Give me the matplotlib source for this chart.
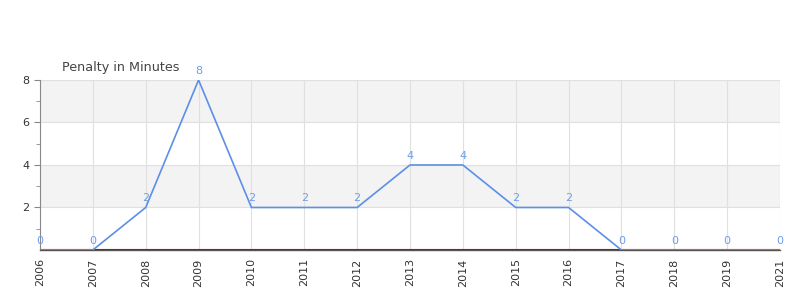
import numpy as np
import matplotlib
matplotlib.use("Agg")
import matplotlib.pyplot as plt

years = [2006, 2007, 2008, 2009, 2010, 2011, 2012, 2013, 2014, 2015, 2016, 2017, 2018, 2019, 2021]
penalty = [0, 0, 2, 8, 2, 2, 2, 4, 4, 2, 2, 0, 0, 0, 0]
y_ticks = [2, 4, 6, 8]

fig = plt.figure(figsize=(8, 3), dpi=100)
ax = fig.add_axes([0.05, 0.1667, 0.925, 0.5667])

x = np.arange(len(years))

# alternating background bands
ax.axhspan(2, 4, color='#f3f3f3', zorder=0, linewidth=0)
ax.axhspan(6, 8, color='#f3f3f3', zorder=0, linewidth=0)

# grid lines
for yc in [2, 4, 6, 8]:
    ax.axhline(yc, color='#e0e0e0', linewidth=0.8, zorder=1)
for xc in x:
    ax.axvline(xc, color='#e0e0e0', linewidth=0.8, zorder=1)

# red baseline just above the axis line
ax.axhline(0.06, color='#cc0000', linewidth=0.8, zorder=2)

ax.plot(x, penalty, color='#5b8fe8', linewidth=1.2, zorder=3)

for xi, v in zip(x, penalty):
    ax.text(xi, v + 0.2, str(v), ha='center', va='bottom', fontsize=8, color='#6d9eeb', zorder=4)

ax.set_xlim(0, len(years) - 1)
ax.set_ylim(0, 8)
ax.set_xticks(x)
ax.set_xticklabels([str(y) for y in years], rotation=90, fontsize=8, color='#333333')
ax.set_yticks(y_ticks)
ax.set_yticks([1, 3, 5, 7], minor=True)
ax.tick_params(axis='y', labelsize=8, colors='#333333', length=4, color='#888888')
ax.tick_params(axis='y', which='minor', length=3, color='#888888')
ax.tick_params(axis='x', length=0, pad=6)

for side in ['top', 'right']:
    ax.spines[side].set_visible(False)
ax.spines['left'].set_color('#888888')
ax.spines['bottom'].set_color('#555555')
ax.spines['bottom'].set_linewidth(1.0)

fig.text(62 / 800, 1 - 67 / 300, "Penalty in Minutes", fontsize=9.2, color='#444444', va='center', ha='left')

fig.savefig('out.png', dpi=100)
